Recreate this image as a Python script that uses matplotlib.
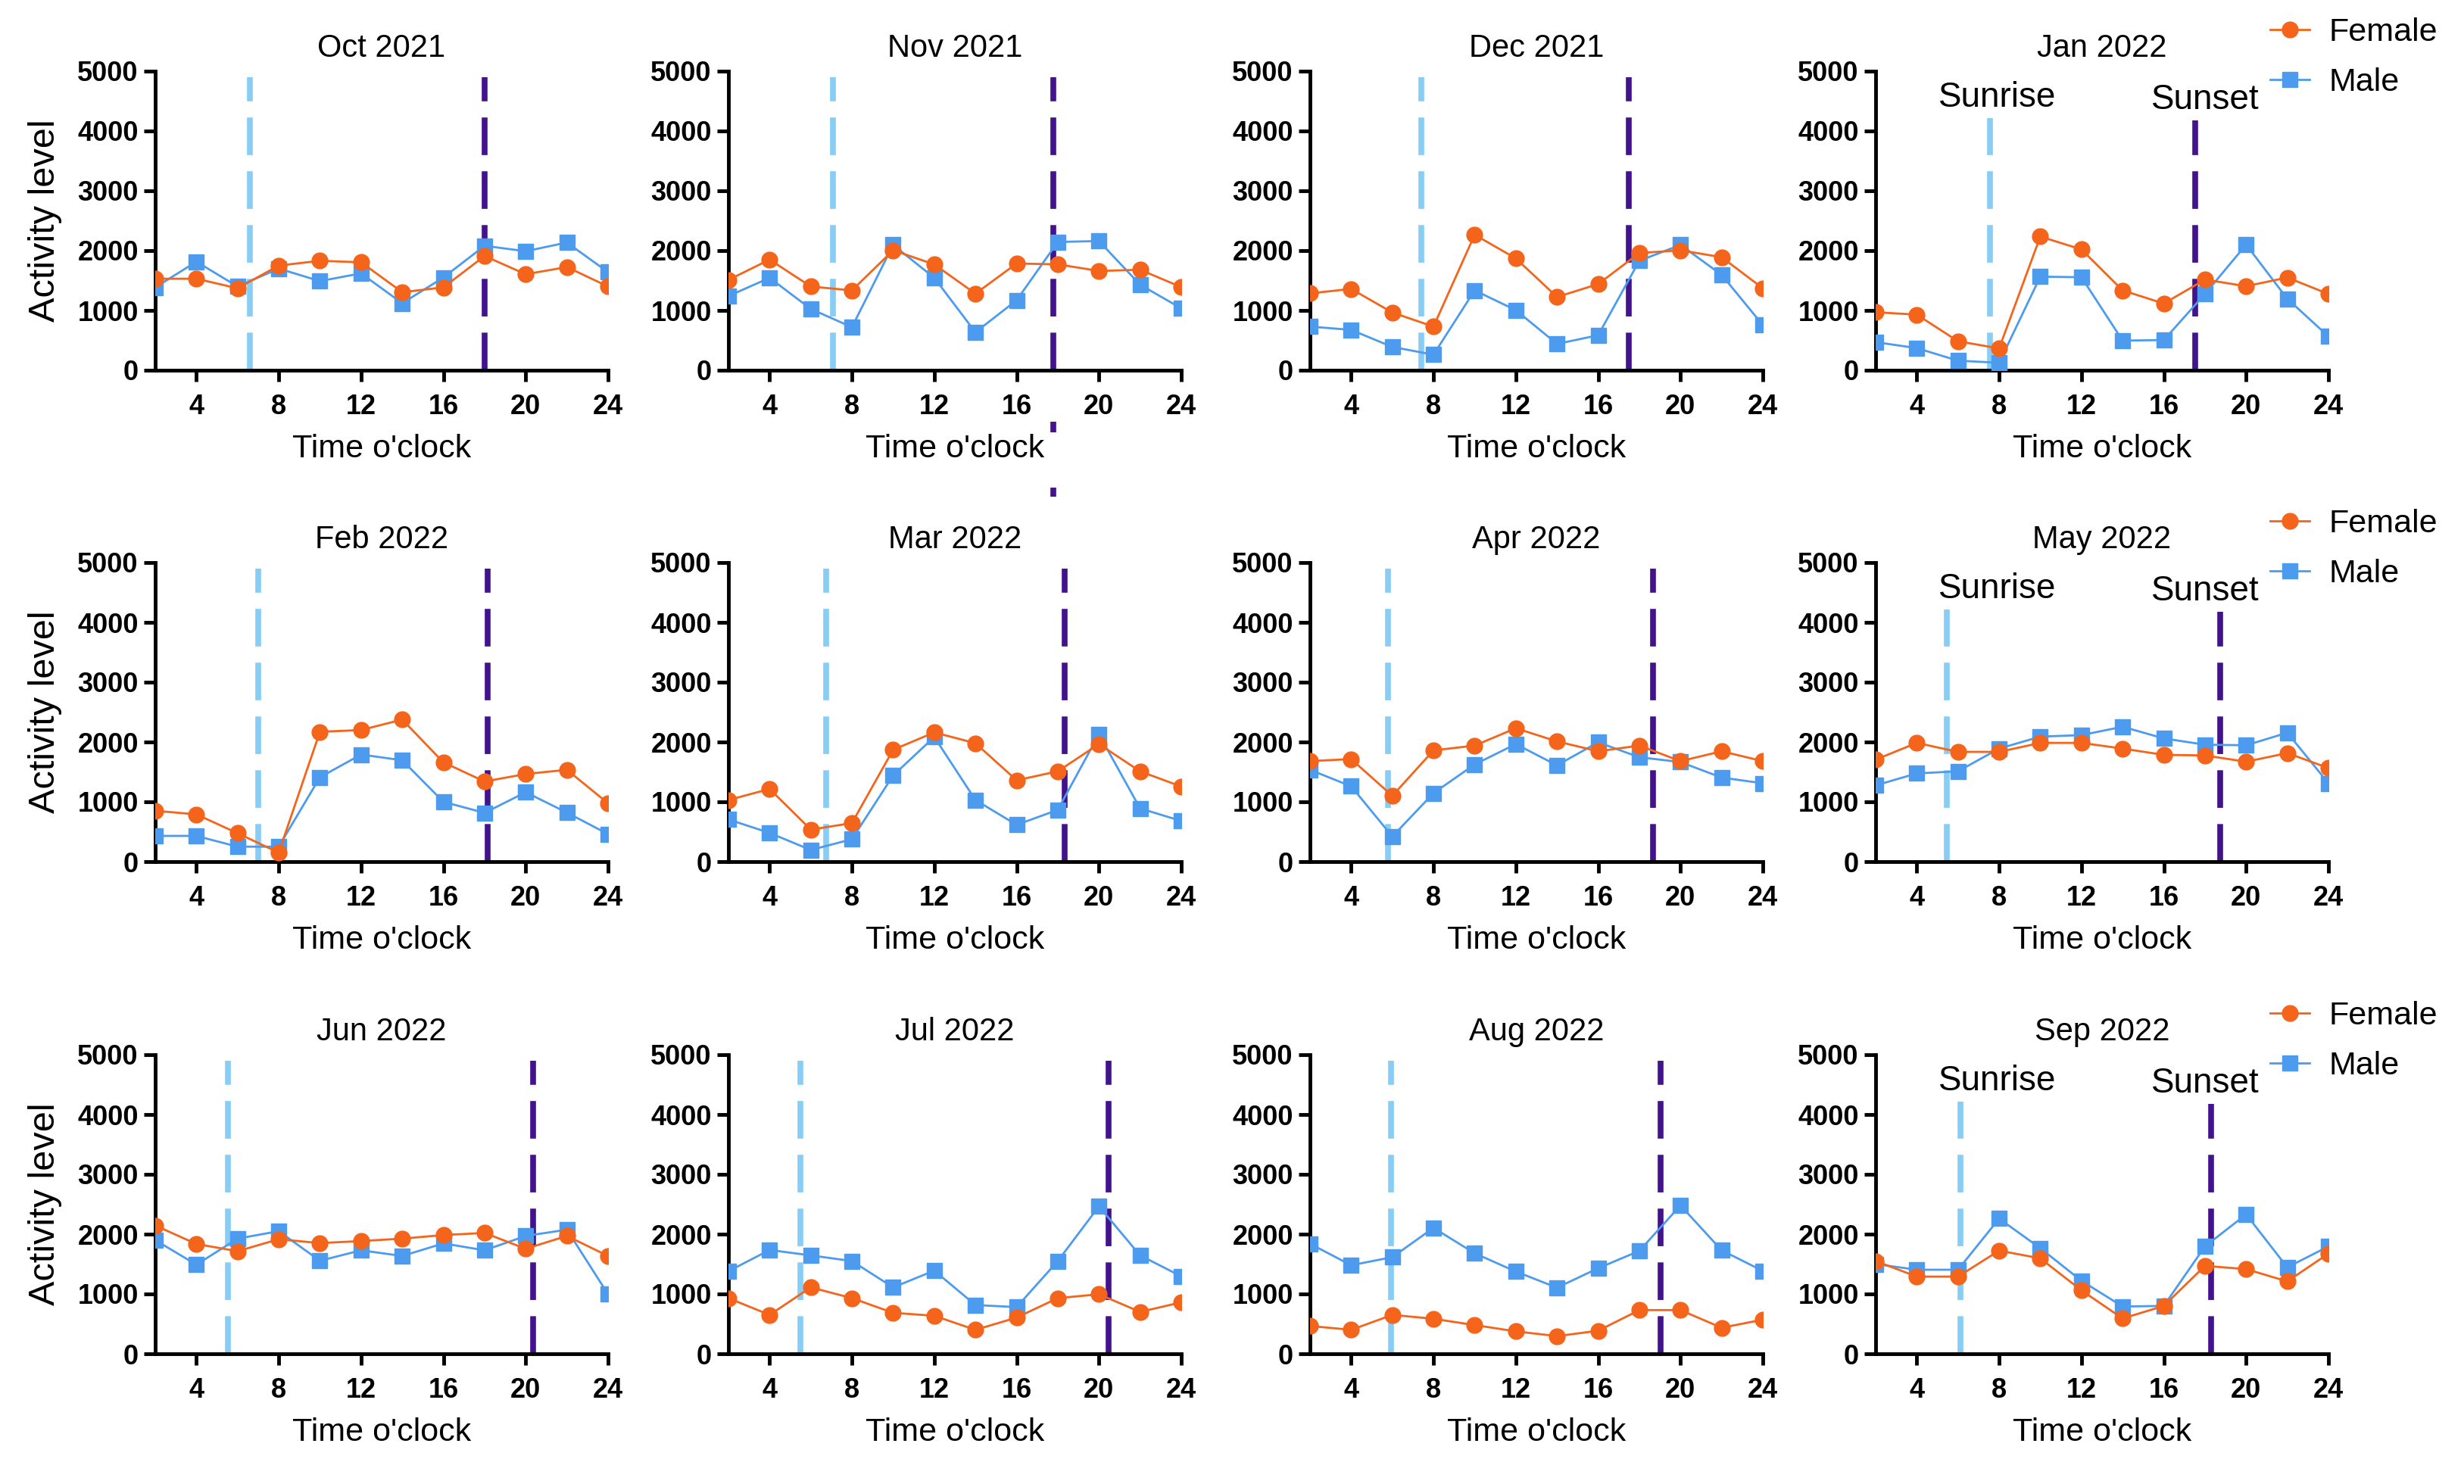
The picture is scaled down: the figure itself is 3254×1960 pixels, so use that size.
import matplotlib
matplotlib.use("Agg")
import matplotlib.pyplot as plt

plt.rcParams['font.family'] = ['Liberation Sans', 'DejaVu Sans']

months = ['Oct 2021', 'Nov 2021', 'Dec 2021', 'Jan 2022',
          'Feb 2022', 'Mar 2022', 'Apr 2022', 'May 2022',
          'Jun 2022', 'Jul 2022', 'Aug 2022', 'Sep 2022']
hours = [2, 4, 6, 8, 10, 12, 14, 16, 18, 20, 22, 24]

female = [
    [1530, 1530, 1370, 1750, 1830, 1805, 1305, 1385, 1910, 1605, 1725, 1400],
    [1510, 1850, 1400, 1335, 2005, 1770, 1280, 1785, 1770, 1660, 1680, 1390],
    [1285, 1360, 965, 730, 2265, 1870, 1225, 1440, 1960, 2005, 1890, 1370],
    [970, 930, 485, 365, 2235, 2020, 1335, 1115, 1515, 1405, 1550, 1275],
    [850, 790, 475, 150, 2170, 2200, 2375, 1660, 1340, 1465, 1535, 975],
    [1030, 1215, 535, 645, 1870, 2160, 1980, 1360, 1510, 1965, 1510, 1255],
    [1680, 1715, 1100, 1860, 1940, 2230, 2010, 1845, 1940, 1680, 1845, 1680],
    [1705, 1985, 1835, 1835, 1985, 1985, 1890, 1785, 1775, 1670, 1815, 1565],
    [2145, 1835, 1715, 1915, 1850, 1885, 1925, 1985, 2020, 1755, 1970, 1635],
    [930, 650, 1110, 930, 685, 635, 400, 605, 930, 995, 700, 860],
    [465, 400, 650, 585, 480, 375, 295, 385, 730, 730, 435, 570],
    [1550, 1290, 1290, 1725, 1595, 1060, 590, 800, 1470, 1415, 1210, 1675],
]
male = [
    [1385, 1815, 1400, 1700, 1490, 1620, 1120, 1550, 2080, 1990, 2135, 1640],
    [1240, 1545, 1025, 720, 2095, 1545, 635, 1170, 2145, 2160, 1430, 1035],
    [730, 675, 390, 260, 1335, 1005, 440, 585, 1830, 2095, 1595, 755],
    [470, 370, 160, 125, 1565, 1555, 495, 505, 1275, 2100, 1195, 565],
    [430, 430, 250, 250, 1410, 1790, 1695, 1000, 815, 1160, 820, 460],
    [705, 480, 195, 375, 1440, 2085, 1030, 615, 865, 2130, 890, 680],
    [1535, 1260, 420, 1145, 1625, 1965, 1610, 1995, 1745, 1665, 1405, 1310],
    [1275, 1475, 1510, 1890, 2090, 2115, 2255, 2060, 1955, 1945, 2155, 1310],
    [1900, 1490, 1925, 2050, 1555, 1730, 1635, 1845, 1730, 1970, 2075, 995],
    [1380, 1735, 1645, 1550, 1110, 1390, 815, 780, 1550, 2465, 1645, 1295],
    [1840, 1480, 1615, 2105, 1680, 1375, 1105, 1430, 1720, 2480, 1730, 1385],
    [1500, 1405, 1405, 2260, 1765, 1220, 790, 800, 1795, 2330, 1445, 1795],
]
sunrise = [6.6, 7.08, 7.42, 7.56, 7.0, 6.76, 5.8, 5.45, 5.55, 5.5, 5.94, 6.13]
sunset = [18.0, 17.8, 17.5, 17.52, 18.15, 18.34, 18.66, 18.74, 20.35, 20.46, 19.05, 18.3]
line_top = [4900, 4900, 4900, 4700, 4900, 4900, 4900, 4700, 4900, 4900, 4900, 4700]
# stray sunset dashes below the Nov panel in the source figure
nov_stray_low = [-1040, -2110]
nov_stray_high = [-860, -1960]

FEMALE_C = '#F4641A'
MALE_C = '#4C9BEF'
RISE_C = '#87CDF5'
SET_C = '#43138E'
DASH = (0, (6.5, 2.8))

W, H = 3255, 1960
fig = plt.figure(figsize=(W / 100, H / 100), dpi=100)

col_left = [205, 962, 1730, 2477]
row_top = [94, 743, 1393]
ax_w, ax_h = 598, 395

for i, m in enumerate(months):
    r, c = divmod(i, 4)
    ax = fig.add_axes([col_left[c] / W, 1 - (row_top[r] + ax_h) / H, ax_w / W, ax_h / H])
    ax.plot(hours, female[i], '-o', color=FEMALE_C, lw=2, ms=15, label='Female', zorder=4)
    ax.plot(hours, male[i], '-s', color=MALE_C, lw=2, ms=14, label='Male', zorder=3)
    ax.vlines(sunrise[i], 0, line_top[i], colors=RISE_C, lw=5.5, linestyles=DASH, zorder=2)
    ax.vlines(sunset[i], 0, line_top[i], colors=SET_C, lw=5.5, linestyles=DASH, zorder=2)
    if i == 1:
        ax.vlines([sunset[i]] * 2, nov_stray_low, nov_stray_high, colors=SET_C, lw=5.5,
                  clip_on=False)
    ax.set_xlim(2, 24)
    ax.set_ylim(0, 5000)
    ax.set_xticks([4, 8, 12, 16, 20, 24])
    ax.set_yticks([0, 1000, 2000, 3000, 4000, 5000])
    for s in ['top', 'right']:
        ax.spines[s].set_visible(False)
    for s in ['left', 'bottom']:
        ax.spines[s].set_linewidth(3.5)
    ax.tick_params(axis='both', width=3.5, length=11, labelsize=26)
    ax.tick_params(axis='x', pad=11)
    ax.tick_params(axis='y', pad=5)
    for lab in ax.get_xticklabels() + ax.get_yticklabels():
        lab.set_fontweight('bold')
    ax.set_title(m, fontsize=30, pad=14)
    ax.set_xlabel("Time o'clock", fontsize=31, labelpad=13)
    if c == 0:
        ax.set_ylabel('Activity level', fontsize=35)
        ax.yaxis.set_label_coords(-0.205, 0.5)
    if c == 3:
        ax.text(7.9, 4560, 'Sunrise', fontsize=33, ha='center', va='center', zorder=5,
                bbox=dict(facecolor='white', edgecolor='none', pad=4))
        ax.text(18.0, 4520, 'Sunset', fontsize=33, ha='center', va='center', zorder=5,
                bbox=dict(facecolor='white', edgecolor='none', pad=4))
        ax.legend(loc='upper left', bbox_to_anchor=(0.872, 1.18), frameon=False,
                  fontsize=31, handlelength=1.2, handletextpad=0.6, labelspacing=0.6,
                  borderpad=0, borderaxespad=0)

fig.savefig('out.png', dpi=100, facecolor='white')
